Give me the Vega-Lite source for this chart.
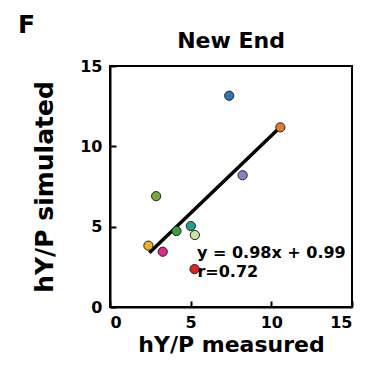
{
  "$schema": "https://vega.github.io/schema/vega-lite/v6.json",
  "width": 242,
  "height": 241,
  "autosize": {"type": "none"},
  "padding": {"left": 110, "top": 66, "right": 18, "bottom": 60},
  "background": "white",
  "config": {
    "font": "DejaVu Sans",
    "view": {"stroke": "black", "strokeWidth": 2},
    "axis": {
      "grid": false,
      "domainColor": "black",
      "domainWidth": 2,
      "tickColor": "black",
      "tickWidth": 2,
      "tickSize": -6,
      "labelFont": "DejaVu Sans",
      "labelFontWeight": "bold",
      "labelFontSize": 16,
      "labelColor": "black",
      "titleFont": "DejaVu Sans",
      "titleFontWeight": "bold",
      "titleColor": "black"
    }
  },
  "layer": [
    {
      "data": {"values": [
        {"x": 2.44, "y": 3.38},
        {"x": 10.56, "y": 11.2}
      ]},
      "mark": {"type": "line", "color": "black", "strokeWidth": 3.5},
      "encoding": {
        "x": {"field": "x", "type": "quantitative", "scale": {"domain": [0, 15], "nice": false},
          "axis": {"values": [0, 5, 10, 15], "title": "hY/P measured", "titleFontSize": 22, "labelPadding": 13, "titlePadding": 4}},
        "y": {"field": "y", "type": "quantitative", "scale": {"domain": [0, 15], "nice": false},
          "axis": {"values": [0, 5, 10, 15], "title": "hY/P simulated", "titleFontSize": 25, "labelPadding": 14, "titlePadding": 22}}
      }
    },
    {
      "data": {"values": [
        {"id": "1", "x": 7.39, "y": 13.15},
        {"id": "2", "x": 10.56, "y": 11.18},
        {"id": "3", "x": 8.22, "y": 8.2},
        {"id": "4", "x": 2.86, "y": 6.9},
        {"id": "5", "x": 4.12, "y": 4.73},
        {"id": "6", "x": 5.01, "y": 5.04},
        {"id": "7", "x": 5.26, "y": 4.48},
        {"id": "8", "x": 2.38, "y": 3.82},
        {"id": "9", "x": 3.27, "y": 3.44},
        {"id": "10", "x": 5.24, "y": 2.36}
      ]},
      "mark": {"type": "point", "filled": true, "size": 85, "stroke": "#222222", "strokeWidth": 1, "opacity": 1},
      "encoding": {
        "x": {"field": "x", "type": "quantitative"},
        "y": {"field": "y", "type": "quantitative"},
        "color": {"field": "id", "type": "nominal", "legend": null,
          "scale": {"domain": ["1","2","3","4","5","6","7","8","9","10"],
            "range": ["#2e75b6", "#e07b2f", "#8b80c4", "#73a83a", "#3a9e3a", "#23a08a", "#c4e3a0", "#ebb024", "#e0288a", "#e32222"]}}
      }
    },
    {
      "data": {"values": [
        {"x": 5.39, "y": 3.05, "label": "y = 0.98x + 0.99"},
        {"x": 5.42, "y": 1.89, "label": "r=0.72"}
      ]},
      "mark": {"type": "text", "align": "left", "baseline": "alphabetic", "font": "DejaVu Sans", "fontWeight": "bold", "fontSize": 16, "color": "black"},
      "encoding": {
        "x": {"field": "x", "type": "quantitative"},
        "y": {"field": "y", "type": "quantitative"},
        "text": {"field": "label"}
      }
    },
    {
      "data": {"values": [
        {"x": -5.7, "y": 17.05, "label": "F"}
      ]},
      "mark": {"type": "text", "align": "left", "baseline": "alphabetic", "font": "DejaVu Sans", "fontWeight": "bold", "fontSize": 25, "color": "black"},
      "encoding": {
        "x": {"field": "x", "type": "quantitative"},
        "y": {"field": "y", "type": "quantitative"},
        "text": {"field": "label"}
      }
    },
    {
      "data": {"values": [
        {"x": 7.5, "y": 16.12, "label": "New End"}
      ]},
      "mark": {"type": "text", "align": "center", "baseline": "alphabetic", "font": "DejaVu Sans", "fontWeight": "bold", "fontSize": 22, "color": "black"},
      "encoding": {
        "x": {"field": "x", "type": "quantitative"},
        "y": {"field": "y", "type": "quantitative"},
        "text": {"field": "label"}
      }
    }
  ]
}
